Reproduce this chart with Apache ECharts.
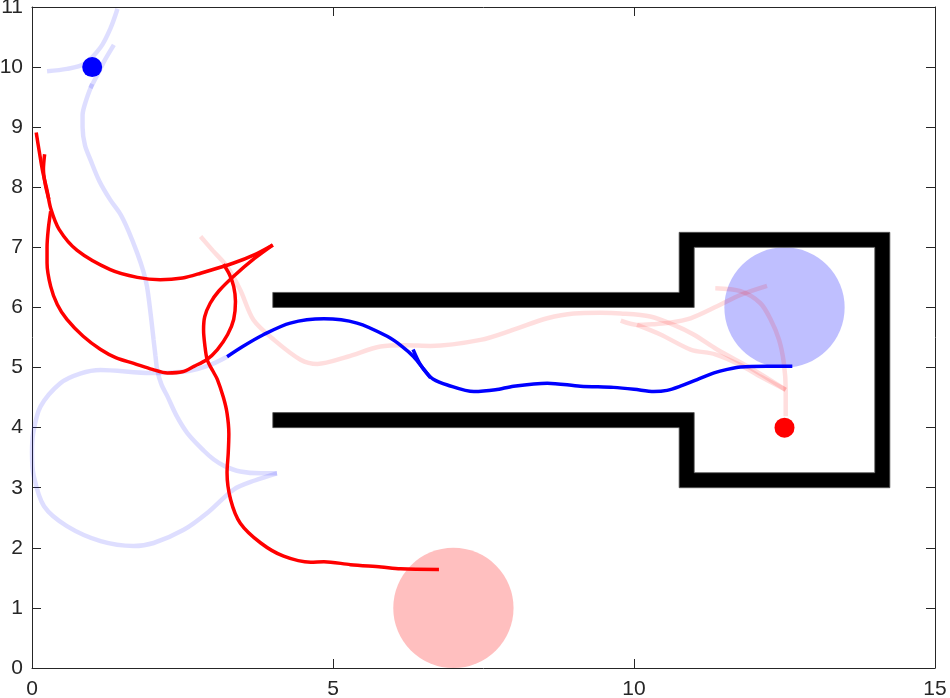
<!DOCTYPE html>
<html>
<head>
<meta charset="utf-8">
<script src="https://cdn.jsdelivr.net/npm/echarts@6/dist/echarts.min.js"></script>
<style>
  html, body { margin: 0; padding: 0; background: #fff; }
  #chart { width: 950px; height: 698px; }
</style>
</head>
<body>
<div id="chart"></div>
<script>
// axis ticks
const xTicks = [0, 5, 10, 15];
const yTicks = [0, 1, 2, 3, 4, 5, 6, 7, 8, 9, 10, 11];

// wall outline (corridor + room), one closed polygon
const wallX = [4, 4, 10.75, 10.75, 14.25, 14.25, 10.75, 10.75, 4, 4, 11, 11, 14.0, 14.0, 11, 11];
const wallY = [6.0, 6.25, 6.25, 7.25, 7.25, 3.0, 3.0, 4.0, 4.0, 4.25, 4.25, 3.25, 3.25, 7.0, 7.0, 6.0];

// goal areas [x, y, r]
const blueGoal = [[12.5, 6.0, 1]];
const redGoal = [[7.0, 1.0, 1]];

// start points
const blueStart = [[1, 10]];
const redStart = [[12.5, 4]];

// faded blue history
const blueOld1 = [[0.25,9.93],[0.58,9.97],[0.86,10.05],[1.14,10.33],[1.31,10.66],[1.42,10.97]];
const blueOld2 = [[0.97,9.65],[1.1,9.9],[1.2,10.1],[1.36,10.37]];
const blueOld3 = [[1.0,9.72],[0.9,9.45],[0.84,9.2],[0.84,9.0],[0.88,8.7],[0.97,8.46],[1.12,8.1],[1.30,7.79],[1.47,7.55],[1.6,7.28],[1.75,6.9],[1.85,6.6],[1.91,6.35],[1.97,5.9],[2.02,5.46],[2.05,5.2],[2.08,4.96],[2.15,4.72],[2.25,4.52],[2.4,4.2],[2.58,3.91],[2.85,3.62],[3.02,3.47],[3.2,3.36],[3.46,3.27],[3.8,3.24],[4.07,3.24]];
const blueOld4 = [[4.07,3.24],[3.7,3.12],[3.35,2.97],[2.91,2.58],[2.52,2.30],[2.02,2.08],[1.69,2.03],[1.14,2.11],[0.58,2.36],[0.2,2.69],[0.03,3.19],[0.0,3.58],[0.02,3.91],[0.14,4.35],[0.47,4.74],[0.8,4.9],[1.14,4.96],[1.97,4.91],[2.58,4.94],[2.95,5.04],[3.24,5.18]];

// faded red history
const redOld1 = [[2.8,7.18],[3.0,6.95],[3.24,6.68],[3.46,6.29],[3.68,5.79],[4.02,5.46],[4.46,5.13],[4.74,5.06],[5.24,5.18],[5.79,5.35],[6.2,5.37],[6.62,5.36],[7.45,5.46],[8.0,5.63],[8.56,5.82],[9.0,5.9],[9.44,5.91],[9.78,5.9],[10.27,5.85],[10.66,5.71],[10.99,5.55],[11.38,5.3],[11.94,4.99],[12.52,4.63]];
const redOld2 = [[9.78,5.78],[10.05,5.71],[10.3,5.72],[10.55,5.74],[10.94,5.82],[11.38,6.02],[11.77,6.21],[12.21,6.36]];
const redOld3 = [[10.05,5.71],[10.44,5.55],[10.94,5.3],[11.35,5.22],[11.77,5.04],[12.1,4.85],[12.52,4.63]];
const redOld4 = [[11.35,6.32],[11.77,6.27],[12.1,6.07],[12.27,5.8],[12.41,5.46],[12.49,5.07],[12.52,4.63],[12.52,4.19]];

// current paths
const bluePath = [[3.24,5.18],[3.5,5.35],[3.85,5.55],[4.29,5.74],[4.85,5.81],[5.4,5.74],[5.9,5.52],[6.15,5.35],[6.34,5.18],[6.55,4.92],[6.66,4.81],[6.9,4.71],[7.34,4.6],[7.7,4.63],[8.0,4.69],[8.56,4.74],[9.11,4.69],[9.66,4.67],[10.0,4.64],[10.33,4.6],[10.55,4.62],[10.77,4.69],[11.05,4.8],[11.33,4.91],[11.55,4.97],[11.77,5.01],[12.2,5.02],[12.63,5.02]];
const blueSpike = [[6.33,5.3],[6.45,5.05],[6.62,4.83]];
const redPathA = [[0.07,8.91],[0.12,8.6],[0.18,8.25],[0.25,7.95],[0.31,7.65],[0.45,7.3],[0.75,6.95],[1.3,6.63],[1.75,6.5],[2.13,6.46],[2.5,6.49],[2.8,6.57],[3.35,6.74],[3.7,6.88],[4.0,7.04]];
const redPathB = [[4.0,7.04],[3.7,6.82],[3.35,6.52],[3.1,6.27],[2.96,6.07],[2.87,5.85],[2.85,5.63],[2.87,5.38],[2.91,5.13],[3.0,4.95],[3.08,4.8],[3.18,4.5],[3.24,4.24],[3.27,3.9],[3.26,3.58],[3.24,3.25],[3.30,2.8],[3.46,2.41],[3.8,2.08],[4.18,1.86],[4.63,1.76],[4.85,1.77],[5.29,1.72],[5.8,1.68],[6.12,1.65],[6.76,1.64]];
const redPathC = [[0.31,7.6],[0.27,7.3],[0.25,7.0],[0.25,6.74],[0.31,6.35],[0.42,6.05],[0.58,5.8],[0.85,5.52],[1.14,5.3],[1.4,5.16],[1.69,5.07],[2.0,4.97],[2.25,4.91],[2.5,4.93],[2.69,5.02],[2.9,5.13],[3.08,5.3],[3.25,5.55],[3.35,5.8],[3.38,6.1],[3.35,6.35],[3.28,6.55],[3.18,6.72]];
const redSpike = [[0.21,8.55],[0.19,8.3],[0.22,8.05],[0.28,7.8]];

const axisColor = '#262626';
const wallPoints = wallX.map((x, i) => [x, wallY[i]]);

function circleItem(fill) {
  return function (params, api) {
    const c = api.coord([api.value(0), api.value(1)]);
    const s = api.size([api.value(2), api.value(2)]);
    return { type: 'circle', shape: { cx: c[0], cy: c[1], r: (s[0] + s[1]) / 2 }, style: { fill: fill } };
  };
}

function fadedLine(data, color) {
  return {
    type: 'line', data: data, symbol: 'none', smooth: 0.3,
    lineStyle: { color: color, width: 4.5, opacity: 0.13 }
  };
}

function solidLine(data, color) {
  return {
    type: 'line', data: data, symbol: 'none', smooth: 0.3,
    lineStyle: { color: color, width: 3.5 }
  };
}

function makeAxis(pos, min, max, interval, show) {
  return {
    type: 'value', position: pos, min: min, max: max, interval: interval,
    axisLine: { show: true, onZero: false, lineStyle: { color: axisColor, width: 1 } },
    axisTick: { show: true, inside: true, length: 9, lineStyle: { color: axisColor } },
    axisLabel: { show: show, color: axisColor, fontSize: 21, fontFamily: 'Liberation Sans', margin: pos === 'bottom' ? 11 : 9 },
    splitLine: { show: false }
  };
}

const chart = echarts.init(document.getElementById('chart'));
chart.setOption({
  animation: false,
  backgroundColor: '#fff',
  grid: { left: 32, right: 15, top: 7, bottom: 30, containLabel: false, outerBoundsMode: 'none' },
  xAxis: [makeAxis('bottom', xTicks[0], xTicks[xTicks.length - 1], 5, true),
          makeAxis('top', xTicks[0], xTicks[xTicks.length - 1], 5, false)],
  yAxis: [makeAxis('left', yTicks[0], yTicks[yTicks.length - 1], 1, true),
          makeAxis('right', yTicks[0], yTicks[yTicks.length - 1], 1, false)],
  series: [
    { type: 'custom', data: blueGoal, renderItem: circleItem('#bfbfff'), encode: { x: 0, y: 1 } },
    { type: 'custom', data: redGoal, renderItem: circleItem('#ffbfbf'), encode: { x: 0, y: 1 } },
    {
      type: 'custom', data: wallPoints, encode: { x: 0, y: 1 },
      renderItem: function (params, api) {
        if (params.dataIndex !== 0) return;
        const pts = wallPoints.map(p => api.coord(p));
        return { type: 'polygon', shape: { points: pts }, style: { fill: '#000', stroke: '#555', lineWidth: 0.8 } };
      }
    },
    fadedLine(blueOld1, '#0000ff'),
    fadedLine(blueOld2, '#0000ff'),
    fadedLine(blueOld3, '#0000ff'),
    fadedLine(blueOld4, '#0000ff'),
    fadedLine(redOld1, '#ff0000'),
    fadedLine(redOld2, '#ff0000'),
    fadedLine(redOld3, '#ff0000'),
    fadedLine(redOld4, '#ff0000'),
    solidLine(redPathA, '#ff0000'),
    solidLine(redPathB, '#ff0000'),
    solidLine(redPathC, '#ff0000'),
    solidLine(redSpike, '#ff0000'),
    solidLine(bluePath, '#0000ff'),
    solidLine(blueSpike, '#0000ff'),
    { type: 'scatter', data: blueStart, symbolSize: 20, itemStyle: { color: '#0000ff', opacity: 1 } },
    { type: 'scatter', data: redStart, symbolSize: 20, itemStyle: { color: '#ff0000', opacity: 1 } }
  ]
});
</script>
</body>
</html>
